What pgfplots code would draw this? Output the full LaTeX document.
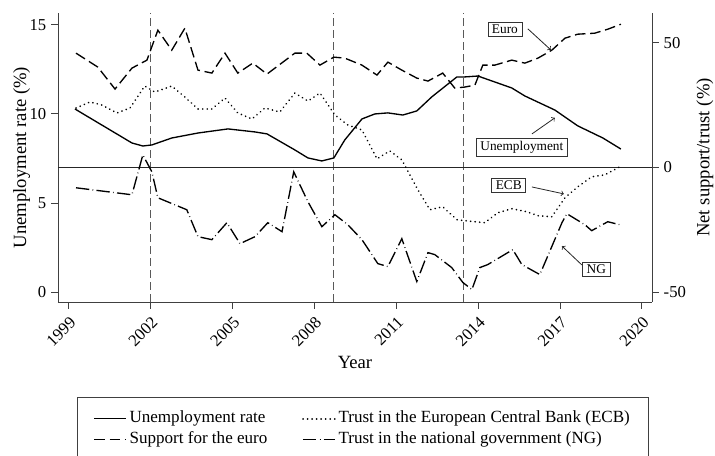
\documentclass[border=0pt]{standalone}
\usepackage{fontspec}
\setmainfont{Liberation Serif}
\usepackage{pgfplots}
\pgfplotsset{compat=1.18}
\begin{document}
\begin{tikzpicture}
\path[use as bounding box] (-43.5pt,-115.5pt) rectangle (492.75pt,226.5pt);
\pgfplotsset{
  common/.style={
    at={(0,0)}, anchor=south west,
    scale only axis, width=445.5pt, height=216.75pt,
    xmin=1998.6, xmax=2020.37,
    axis line style={-, draw=black!75, line width=0.7pt},
    tick align=outside, major tick length=5.25pt,
    tick style={black!75, line width=0.7pt},
    tick label style={font=\fontsize{12.5}{12.5}\selectfont},
    label style={font=\fontsize{14}{14}\selectfont},
  },
  unemp/.style={black, line width=1pt},
  euro/.style={black, line width=1pt, dash pattern=on 8pt off 3.5pt},
  ecb/.style={black, line width=1.3pt, line cap=round, dash pattern=on 0.1pt off 3.3pt},
  ng/.style={black, line width=1pt, dash pattern=on 10pt off 2.5pt on 0.5pt off 2.5pt},
}
\begin{axis}[common,
  ymin=-0.56, ymax=15.67,
  axis x line*=bottom, axis y line*=left,
  xtick={1999,2002,2005,2008,2011,2014,2017,2020},
  xticklabels={1999,2002,2005,2008,2011,2014,2017,2020},
  ytick={0,5,10,15}, yticklabels={0,5,10,15},
  x tick label style={rotate=45, anchor=north east},
  xlabel={Year}, ylabel={Unemployment rate (\%)},
  xlabel style={at={(axis description cs:0.5,-0.211)}, anchor=center},
  ylabel style={at={(axis description cs:-0.061,0.5)}, anchor=center},
  clip=false,
]
\draw[black!65, line width=0.8pt, dash pattern=on 6pt off 3pt] (axis cs:2002,-0.56) -- (axis cs:2002,15.67);
\draw[black!65, line width=0.8pt, dash pattern=on 6pt off 3pt] (axis cs:2008.71,-0.56) -- (axis cs:2008.71,15.67);
\draw[black!65, line width=0.8pt, dash pattern=on 6pt off 3pt] (axis cs:2013.47,-0.56) -- (axis cs:2013.47,15.67);
\addplot[unemp] coordinates {
(1999.22,10.28) (2001.31,8.37) (2001.71,8.20) (2002.04,8.26) (2002.77,8.65)
(2003.73,8.93) (2004.83,9.16) (2005.82,8.99) (2006.26,8.88) (2007.28,7.98)
(2007.76,7.53) (2008.27,7.36) (2008.71,7.53) (2009.11,8.54) (2009.74,9.72)
(2010.21,10.00) (2010.69,10.06) (2011.24,9.94) (2011.75,10.17) (2012.30,10.96)
(2012.85,11.63) (2013.22,12.08) (2013.51,12.08) (2013.99,12.13) (2015.23,11.46)
(2015.71,11.01) (2016.81,10.22) (2017.65,9.33) (2018.57,8.65) (2019.23,8.03)
};
\tikzset{box/.style={draw=black!80, line width=0.5pt, fill=white, inner xsep=3pt, inner ysep=2pt, font=\fontsize{10}{10}\selectfont}}
\node[box] at (axis cs:2014.98,14.75) {Euro};
\draw[->, black!85, line width=0.6pt] (axis cs:2015.82,14.78) -- (axis cs:2016.66,13.6);
\node[box] at (axis cs:2015.60,8.12) {Unemployment};
\draw[->, black!85, line width=0.6pt] (axis cs:2015.97,8.88) -- (axis cs:2016.81,9.78);
\node[box] at (axis cs:2015.12,6.01) {ECB};
\draw[->, black!85, line width=0.6pt] (axis cs:2015.97,5.90) -- (axis cs:2017.14,5.51);
\node[box] at (axis cs:2018.33,1.29) {NG};
\draw[->, black!85, line width=0.6pt] (axis cs:2017.80,1.52) -- (axis cs:2017.07,2.58);
\end{axis}
\begin{axis}[common,
  ymin=-54.0, ymax=61.9,
  axis x line=none, axis y line*=right,
  ytick={-50,0,50}, yticklabels={-50,0,50},
  ylabel={Net support/trust (\%)},
  ylabel style={at={(axis description cs:1.089,0.5)}, anchor=center},
  legend columns=2,
  legend cell align=left,
  legend image code/.code={\draw[#1] (0pt,0pt) -- (24pt,0pt);},
  legend style={at={(axis description cs:0.5135,-0.3287)}, anchor=north,
    draw=black!75, line width=0.6pt,
    font=\fontsize{12.8}{12.8}\selectfont,
    inner xsep=12pt, inner ysep=9pt, row sep=1.5pt,
    nodes={text height=9pt, text depth=3pt, inner ysep=1pt},
    /tikz/every even column/.append style={column sep=24pt}},
]
\draw[black!85, line width=0.8pt] (axis cs:1998.6,0) -- (axis cs:2020.37,0);
\addlegendimage{unemp}
\addlegendentry{Unemployment rate}
\addplot[ecb] coordinates {
(1999.26,23.8) (1999.77,26.2) (2000.21,25.0) (2000.76,21.8) (2001.24,23.8)
(2001.78,32.6) (2002.15,30.2) (2002.77,32.6) (2003.25,28.2) (2003.73,23.4)
(2004.24,23.4) (2004.72,27.8) (2005.19,21.8) (2005.71,19.4) (2006.18,23.8)
(2006.73,22.2) (2007.28,29.8) (2007.76,26.6) (2008.20,29.8) (2008.75,21.0)
(2009.22,17.0) (2009.74,15.0) (2010.29,3.4) (2010.76,6.6) (2011.20,3.0)
(2011.79,-9.0) (2012.23,-17.0) (2012.70,-15.8) (2013.22,-21.0) (2013.51,-21.4)
(2014.24,-22.2) (2014.72,-18.2) (2015.23,-16.6) (2015.78,-17.8) (2016.19,-19.4)
(2016.70,-19.8) (2017.18,-12.2) (2017.65,-7.8) (2018.16,-3.8) (2018.64,-3.0)
(2019.19,0.2)
};
\addlegendentry{Trust in the European Central Bank (ECB)}
\addplot[euro] coordinates {
(1999.26,45.8) (2000.06,40.2) (2000.69,31.4) (2001.31,39.8) (2001.86,43.0)
(2002.26,55.0) (2002.77,47.0) (2003.25,55.8) (2003.73,39.0) (2004.24,37.8)
(2004.72,45.8) (2005.19,37.8) (2005.74,41.8) (2006.26,37.4) (2007.28,45.8)
(2007.72,45.8) (2008.20,41.0) (2008.71,44.2) (2009.11,43.8) (2009.74,41.0)
(2010.29,37.0) (2010.69,42.2) (2011.20,39.0) (2011.75,35.8) (2012.16,34.6)
(2012.70,37.8) (2013.14,31.8) (2013.51,32.2) (2013.88,33.0) (2014.17,41.0)
(2014.61,41.0) (2015.23,43.0) (2015.71,41.8) (2016.19,43.8) (2016.70,47.0)
(2017.18,51.8) (2017.65,53.4) (2018.27,53.8) (2018.75,55.4) (2019.23,57.4)
};
\addlegendentry{Support for the euro}
\addplot[ng] coordinates {
(1999.26,-8.2) (2001.31,-11.0) (2001.71,5.0) (2002.04,-1.8) (2002.26,-12.2)
(2003.32,-17.0) (2003.73,-27.8) (2004.24,-29.0) (2004.79,-22.2) (2005.27,-30.6)
(2005.82,-27.8) (2006.29,-22.2) (2006.81,-25.8) (2007.24,-1.8) (2007.76,-13.8)
(2008.27,-23.8) (2008.75,-19.0) (2009.22,-23.0) (2009.74,-29.0) (2010.32,-38.6)
(2010.69,-39.8) (2011.20,-28.6) (2011.75,-45.8) (2012.16,-34.2) (2012.41,-35.0)
(2013.03,-40.2) (2013.44,-46.2) (2013.77,-49.0) (2014.06,-40.2) (2014.35,-39.0)
(2015.27,-33.0) (2015.60,-39.0) (2016.26,-43.0) (2017.07,-22.2) (2017.25,-18.6)
(2017.91,-23.0) (2018.16,-25.4) (2018.75,-21.8) (2019.19,-23.0)
};
\addlegendentry{Trust in the national government (NG)}
\end{axis}
\end{tikzpicture}
\end{document}
